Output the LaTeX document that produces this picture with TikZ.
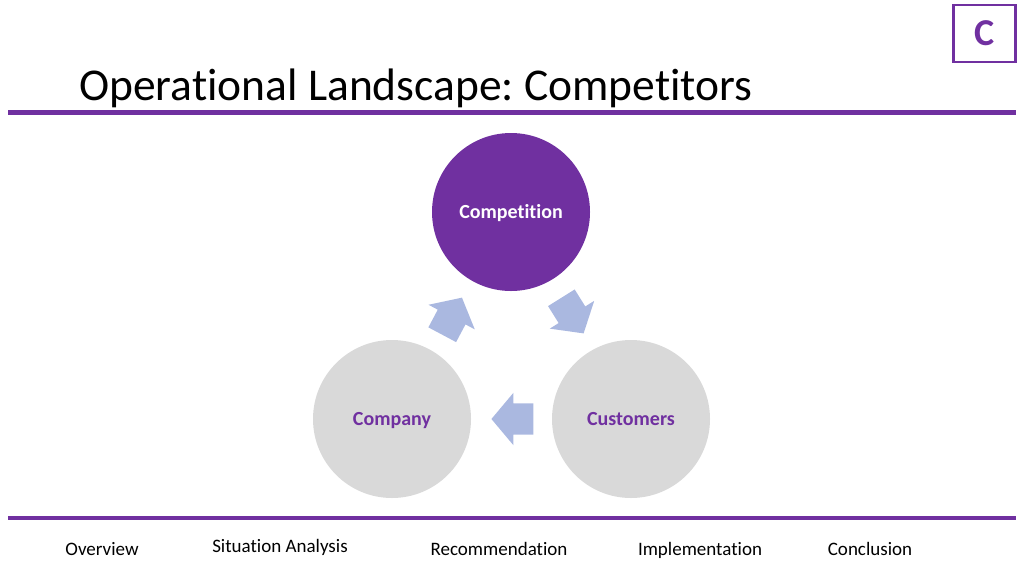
\documentclass[tikz,border=0pt]{standalone}
\usepackage{fontspec}
\setmainfont[Ligatures=NoCommon]{Carlito}
\usetikzlibrary{shapes.arrows}

\definecolor{deckpurple}{RGB}{112,48,160}
\definecolor{circlegray}{RGB}{217,217,217}
\definecolor{arrowblue}{RGB}{170,184,224}

\tikzset{
  rule/.style={deckpurple, line width=#1},
  hub/.style={circle, minimum size=158pt, inner sep=0pt, text height=14pt, text depth=2pt,
    font=\fontsize{20}{22}\selectfont\bfseries},
  cyclearrow/.style={single arrow, fill=arrowblue, draw=none, minimum height=42pt,
    inner xsep=0pt, inner ysep=15.5pt, single arrow head extend=10.5pt,
    single arrow tip angle=100, text width=0pt},
  navitem/.style={font=\fontsize{19}{21}\selectfont, text=black}
}

\begin{document}
\frenchspacing
\begin{tikzpicture}[x=1pt,y=-1pt]
\useasboundingbox (0,0) rectangle (1024,576);
% section badge
\node [draw=deckpurple, line width=2.5pt, minimum width=62pt, minimum height=57pt, inner sep=0pt,
  text=deckpurple, font=\fontsize{38}{40}\selectfont\bfseries] (badge) at (984.5,33.5) {C};
% title and rules
\node [anchor=base west, inner sep=0pt, font=\fontsize{45.5}{48}\selectfont] (title) at (79,100) {Operational Landscape: Competitors};
\draw [rule=5pt] (8,112) -- (1016,112);
\draw [rule=3.5pt] (8,518) -- (1016,518);
% cycle
\node [hub, fill=deckpurple, text=white] (competition) at (511,212) {Competition};
\node [hub, fill=circlegray, text=deckpurple] (company) at (392,419) {Company};
\node [hub, fill=circlegray, text=deckpurple] (customers) at (631,419) {Customers};
\node [cyclearrow, rotate=62] (toCompetition) at (449,322) {};
\node [cyclearrow, rotate=-58] (toCustomers) at (569,310) {};
\node [cyclearrow, rotate=180] (toCompany) at (519,419) {};
% navigation
\node [navitem] (overview) at (102,549) {Overview};
\node [navitem] (situation) at (280,547) {Situation Analysis};
\node [navitem] (recommendation) at (499,549) {Recommendation};
\node [navitem] (implementation) at (700,550) {Implementation};
\node [navitem] (conclusion) at (870,549) {Conclusion};
\end{tikzpicture}
\end{document}
